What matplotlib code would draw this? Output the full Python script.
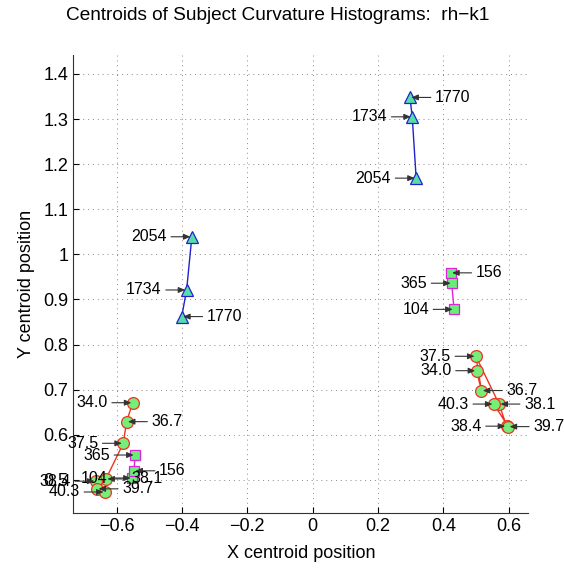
import matplotlib
matplotlib.use("Agg")
import matplotlib.pyplot as plt

plt.rcParams['font.family'] = ['Liberation Sans', 'DejaVu Sans']

# triangles (blue), two groups
tri_labels = ["2054", "1734", "1770"]
tri_left_x = [-0.370, -0.386, -0.401]
tri_left_y = [1.039, 0.921, 0.862]
tri_right_x = [0.317, 0.305, 0.298]
tri_right_y = [1.169, 1.305, 1.348]
tri_left_side = ["l", "l", "r"]
tri_right_side = ["l", "l", "r"]

# squares (magenta)
sq_labels = ["104", "156", "365"]
sq_left_x = [-0.553, -0.547, -0.544]
sq_left_y = [0.504, 0.520, 0.555]
sq_right_x = [0.433, 0.423, 0.427]
sq_right_y = [0.878, 0.959, 0.936]
sq_left_side = ["l", "r", "l"]
sq_right_side = ["l", "r", "l"]

# circles (red)
circ_labels = ["34.0", "36.7", "37.5", "38.1", "38.4", "39.7", "40.3"]
circ_left_x = [-0.551, -0.570, -0.580, -0.633, -0.664, -0.660, -0.636]
circ_left_y = [0.671, 0.629, 0.581, 0.502, 0.497, 0.480, 0.473]
circ_right_x = [0.502, 0.517, 0.500, 0.571, 0.594, 0.599, 0.555]
circ_right_y = [0.742, 0.698, 0.774, 0.668, 0.619, 0.618, 0.668]
circ_left_side = ["l", "r", "l", "r", "l", "r", "l"]
circ_right_side = ["l", "r", "l", "r", "l", "r", "l"]

fig = plt.figure(figsize=(5.64, 5.71), dpi=100)
ax = fig.add_axes([0.130, 0.101, 0.807, 0.8026])

groups = [
    (tri_left_x, tri_left_y, tri_labels, tri_left_side, "^", "#2222cc", "#55ddaa", 9),
    (tri_right_x, tri_right_y, tri_labels, tri_right_side, "^", "#2222cc", "#55ddaa", 9),
    (sq_left_x, sq_left_y, sq_labels, sq_left_side, "s", "#dd22dd", "#66ee77", 7.5),
    (sq_right_x, sq_right_y, sq_labels, sq_right_side, "s", "#dd22dd", "#66ee77", 7.5),
    (circ_left_x, circ_left_y, circ_labels, circ_left_side, "o", "#ee3322", "#77ee77", 8.5),
    (circ_right_x, circ_right_y, circ_labels, circ_right_side, "o", "#ee3322", "#77ee77", 8.5),
]

for xs, ys, labs, sides, mk, ec, fc, ms in groups:
    ax.plot(xs, ys, "-", color=ec, lw=1.0, marker=mk, ms=ms,
            markeredgecolor=ec, markerfacecolor=fc, markeredgewidth=0.9, zorder=3)
    for x, y, lab, s in zip(xs, ys, labs, sides):
        dx = -18 if s == "l" else 18
        ax.annotate(lab, xy=(x, y), xytext=(dx, 0), textcoords="offset points",
                    ha="right" if s == "l" else "left", va="center", fontsize=11.5,
                    arrowprops=dict(arrowstyle="-|>,head_length=0.35,head_width=0.15",
                                    color="#333333", lw=0.8, shrinkA=1, shrinkB=1),
                    zorder=4)

ax.set_xlim(-0.733, 0.661)
ax.set_ylim(0.4257, 1.442)
ax.set_xticks([-0.6, -0.4, -0.2, 0, 0.2, 0.4, 0.6])
ax.set_yticks([0.5, 0.6, 0.7, 0.8, 0.9, 1.0, 1.1, 1.2, 1.3, 1.4])
fmt = plt.FuncFormatter(lambda v, p: ("%g" % round(v, 6)).replace("-", "\u2212"))
ax.xaxis.set_major_formatter(fmt)
ax.yaxis.set_major_formatter(fmt)
ax.tick_params(direction="in", labelsize=13, length=4, width=0.8)
ax.grid(True, linestyle=(0, (1, 4)), color="#888888", lw=0.7)
ax.spines["top"].set_visible(False)
ax.spines["right"].set_visible(False)
ax.spines["left"].set_color("#333333")
ax.spines["bottom"].set_color("#333333")

ax.set_xlabel("X centroid position", fontsize=13, labelpad=7)
ax.set_ylabel("Y centroid position", fontsize=13, labelpad=6)
ax.set_title("Centroids of Subject Curvature Histograms:  rh\u2212k1", fontsize=13.7,
             pad=25, x=0.45)

fig.savefig("out.png", dpi=100)
